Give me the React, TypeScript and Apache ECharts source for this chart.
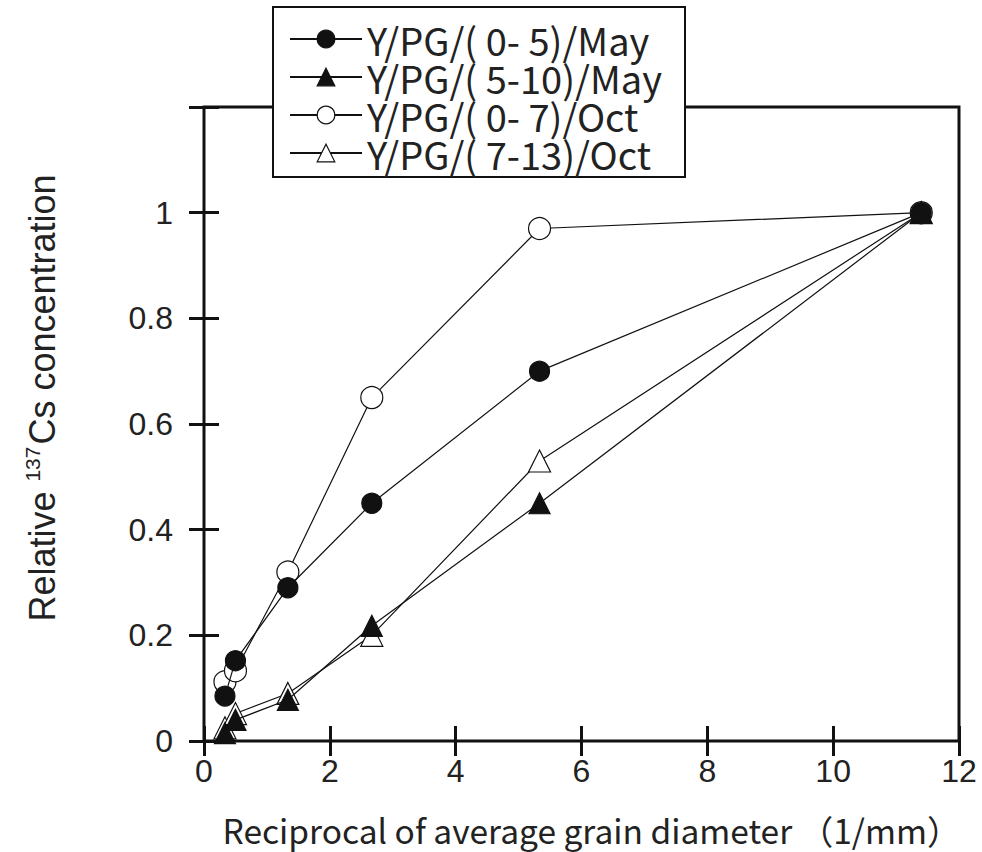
import React, { useEffect, useRef } from "react";
import * as echarts from "echarts";

const xValues = [0.333, 0.5, 1.333, 2.667, 5.333, 11.4];
const mayShallow = [0.085, 0.152, 0.29, 0.45, 0.7, 1.0];
const mayDeep = [0.015, 0.04, 0.078, 0.218, 0.45, 1.0];
const octShallow = [0.112, 0.133, 0.32, 0.65, 0.97, 1.0];
const octDeep = [0.025, 0.052, 0.09, 0.2, 0.53, 1.0];
const seriesNames = [
  "Y/PG/( 0- 5)/May",
  "Y/PG/( 5-10)/May",
  "Y/PG/( 0- 7)/Oct",
  "Y/PG/( 7-13)/Oct",
];
const yTickLabels = ["0", "0.2", "0.4", "0.6", "0.8", "1", ""];
const xTickLabels = ["0", "2", "4", "6", "8", "10", "12"];

const pair = (ys: number[]) => xValues.map((x, i) => [x, ys[i]]);

export default function App() {
  const ref = useRef<HTMLDivElement>(null);
  useEffect(() => {
    if (!ref.current) return;
    const chart = echarts.init(ref.current, null, { renderer: "svg" });
    const tickFont = "Liberation Sans";
    const mk = (
      name: string,
      data: number[],
      symbol: string,
      filled: boolean,
      size: number,
      z: number
    ) => ({
      name,
      type: "line",
      data: pair(data),
      symbol,
      symbolSize: size,
      showSymbol: true,
      z,
      lineStyle: { color: "#111", width: 1.2 },
      itemStyle: {
        color: filled ? "#111" : "#fff",
        borderColor: "#111",
        borderWidth: 1.2,
      },
    });
    const tick = { inside: true, length: 15, lineStyle: { color: "#111", width: 3 } };
    chart.setOption({
      animation: false,
      backgroundColor: "#fff",
      grid: {
        left: 204,
        right: 23,
        top: 107,
        bottom: 111,
        show: true,
        borderColor: "#111",
        borderWidth: 3,
        backgroundColor: "transparent",
      },
      xAxis: [
        {
          type: "value",
          min: 0,
          max: 12,
          interval: 2,
          position: "bottom",
          axisLine: { show: false },
          splitLine: { show: false },
          axisTick: tick,
          axisLabel: {
            fontFamily: tickFont,
            fontSize: 32,
            color: "#222",
            margin: 14,
            formatter: (v: number) => xTickLabels[Math.round(v / 2)] ?? "",
          },
          name: "Reciprocal of average grain diameter （1/mm）",
          nameLocation: "middle",
          nameGap: 70,
          nameTextStyle: {
            fontFamily: "Noto Sans CJK JP",
            fontSize: 33.5,
            lineHeight: 36,
            color: "#222",
            padding: [0, 0, 0, 20],
          },
        },
        {
          type: "value",
          min: 0,
          max: 12,
          interval: 2,
          position: "top",
          axisLine: { show: false },
          splitLine: { show: false },
          axisTick: tick,
          axisLabel: { show: false },
        },
      ],
      yAxis: [
        {
          type: "value",
          min: 0,
          max: 1.2,
          interval: 0.2,
          position: "left",
          axisLine: { show: false },
          splitLine: { show: false },
          axisTick: tick,
          axisLabel: {
            fontFamily: tickFont,
            fontSize: 32,
            color: "#222",
            margin: 31,
            formatter: (v: number) => yTickLabels[Math.round(v / 0.2)] ?? "",
          },
        },
        {
          type: "value",
          min: 0,
          max: 1.2,
          interval: 0.2,
          position: "right",
          axisLine: { show: false },
          splitLine: { show: false },
          axisTick: tick,
          axisLabel: { show: false },
        },
      ],
      legend: {
        left: 273,
        top: 7,
        orient: "vertical",
        data: seriesNames,
        backgroundColor: "transparent",
        borderWidth: 0,
        padding: [13, 24, 5, 16],
        itemWidth: 72,
        itemHeight: 22,
        itemGap: 0,
        itemStyle: { borderWidth: 1.2 },
        textStyle: {
          fontFamily: "Noto Sans CJK JP",
          fontSize: 38,
          lineHeight: 38,
          color: "#222",
        },
        z: 10,
      },
      graphic: [
        {
          type: "rect",
          z: 8,
          shape: { x: 273, y: 7, width: 412, height: 170 },
          style: { fill: "#fff", stroke: "#111", lineWidth: 2 },
        },
        {
          type: "text",
          x: 42,
          y: 398,
          rotation: Math.PI / 2,
          z: 10,
          style: {
            text: "{a|Relative }{s|137}{a|Cs concentration}",
            align: "center",
            verticalAlign: "middle",
            rich: {
              a: { fontFamily: "Liberation Sans", fontSize: 36, fill: "#222", lineHeight: 40 },
              s: {
                fontFamily: "Liberation Sans",
                fontSize: 21,
                fill: "#222",
                verticalAlign: "top",
                lineHeight: 40,
                padding: [0, 2, 16, 0],
              },
            },
          },
        },
      ],
      series: [
        mk(seriesNames[0], mayShallow, "circle", true, 20, 6),
        mk(seriesNames[1], mayDeep, "triangle", true, 21, 5),
        mk(seriesNames[2], octShallow, "circle", false, 22, 4),
        mk(seriesNames[3], octDeep, "triangle", false, 22, 3),
      ],
    });
    return () => chart.dispose();
  }, []);
  return (
    <div
      ref={ref}
      style={{ position: "fixed", left: 0, top: 0, width: 982, height: 852 }}
    />
  );
}
